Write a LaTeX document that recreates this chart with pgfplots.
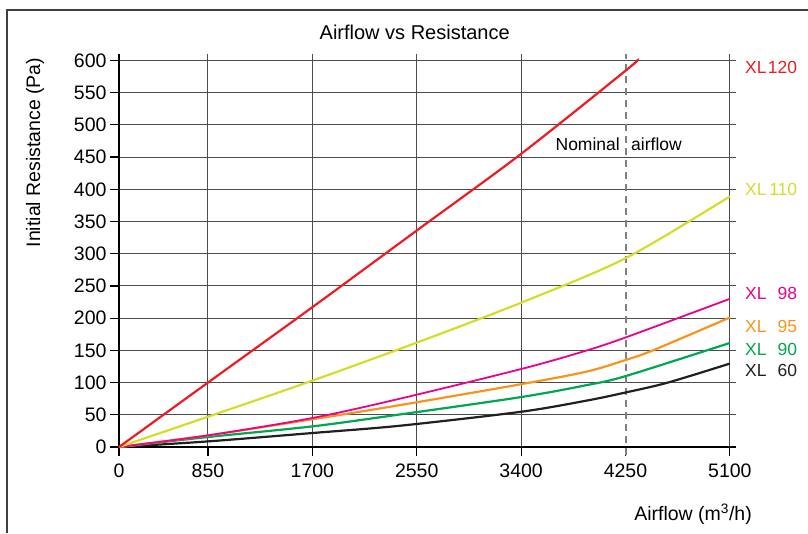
\documentclass[border=0pt]{standalone}
\usepackage{fontspec}
\setmainfont{Liberation Sans}
\usepackage{pgfplots}
\pgfplotsset{compat=1.18}

\definecolor{xlred}{HTML}{ED1C24}
\definecolor{xlyellow}{HTML}{D5DC2A}
\definecolor{xlmagenta}{HTML}{EC008C}
\definecolor{xlorange}{HTML}{F7941D}
\definecolor{xlgreen}{HTML}{00A651}
\definecolor{xlblack}{HTML}{231F20}

\newcommand\xl[1]{\makebox[52pt]{XL\hfill#1}}

\begin{document}
\begin{tikzpicture}[x=1pt,y=1pt]
\path[use as bounding box] (0,0) rectangle (808,533);
% outer frame (only left and top are visible)
\draw[black!75, line width=1.1pt] (7,0) -- (7,523) -- (808,523);

\begin{axis}[
  at={(119pt,86pt)}, anchor=south west,
  scale only axis, width=617pt, height=393pt,
  % the original x scale is not linear: first interval is shorter
  x coord trafo/.code={\pgfmathparse{#1<850 ? #1*0.104706 : 89+(#1-850)*0.122824}},
  xmin=0, xmax=5150, ymin=0, ymax=610,
  axis lines=left,
  axis line style={-, line width=2.5pt, black},
  xtick={0,850,1700,2550,3400,5100},
  xticklabels={0,850,1700,2550,3400,5100},
  extra x ticks={4250},
  extra x tick labels={4250},
  extra x tick style={grid=none},
  ytick={0,50,...,600},
  grid=major,
  grid style={black!70, line width=1pt},
  tick align=outside,
  major tick length=9pt,
  tick style={black, line width=1.2pt},
  tick label style={font=\fontsize{19.5}{23}\selectfont},
  xticklabel style={yshift=-4pt},
  /pgf/number format/assume math mode=true,
  clip=false,
]
% nominal airflow marker
\addplot[gray, line width=2pt, dash pattern=on 7pt off 5pt] coordinates {(4250,-12) (4250,610)};

% XL 60
\addplot[xlblack, line width=2.2pt, smooth] coordinates {
  (0,0) (850,8.7) (1700,21.7) (2413,33) (3400,54.7) (3933,72) (4250,84.6) (4595,100) (5100,129.5)};
% XL 90
\addplot[xlgreen, line width=2.2pt, smooth] coordinates {
  (0,0) (850,15.5) (1700,32) (2413,50.5) (3400,77.5) (3933,96) (4250,110) (5100,161.5)};
% XL 95
\addplot[xlorange, line width=2.2pt, smooth] coordinates {
  (0,0) (850,18) (1700,43) (2413,65) (3400,97.5) (3933,117) (4250,135) (4473,150) (5100,201)};
% XL 98
\addplot[xlmagenta, line width=1.8pt, smooth] coordinates {
  (0,0) (850,18) (1700,45) (2413,75) (3400,121) (3903,148) (4250,170) (5100,230)};
% XL 110
\addplot[xlyellow, line width=2.2pt, smooth] coordinates {
  (0,0) (850,47) (1700,103) (2550,162) (3400,224) (4250,293) (5100,389)};
% XL 120
\addplot[xlred, line width=2.2pt, smooth] coordinates {
  (0,0) (850,100) (1700,217) (2550,336) (3400,455) (4250,584) (4343,600)};
\end{axis}

% titles and labels
\node[anchor=base, font=\fontsize{20}{24}\selectfont] at (414.7,493.7) {Airflow vs Resistance};
\node[anchor=base, rotate=90, font=\fontsize{19.5}{23}\selectfont] at (40,380.5) {Initial Resistance (Pa)};
\node[anchor=base, font=\fontsize{19.5}{23}\selectfont] at (693,12.3) {Airflow (m\textsuperscript{3}/h)};

\node[anchor=base east, inner sep=0pt, font=\fontsize{17.5}{21}\selectfont] at (620,382.3) {Nominal};
\node[anchor=base west, inner sep=0pt, font=\fontsize{17.5}{21}\selectfont] at (631,382.3) {airflow};

% series names at the right
\begin{scope}[every node/.style={anchor=base west, inner sep=0pt, font=\fontsize{17.5}{21}\selectfont}]
\node[text=xlred]     at (745,459.7) {\xl{120}};
\node[text=xlyellow]  at (745,337)   {\xl{110}};
\node[text=xlmagenta] at (745,233.7) {\xl{98}};
\node[text=xlorange]  at (745,200)   {\xl{95}};
\node[text=xlgreen]   at (745,177)   {\xl{90}};
\node[text=xlblack]   at (745,157)   {\xl{60}};
\end{scope}
\end{tikzpicture}
\end{document}
